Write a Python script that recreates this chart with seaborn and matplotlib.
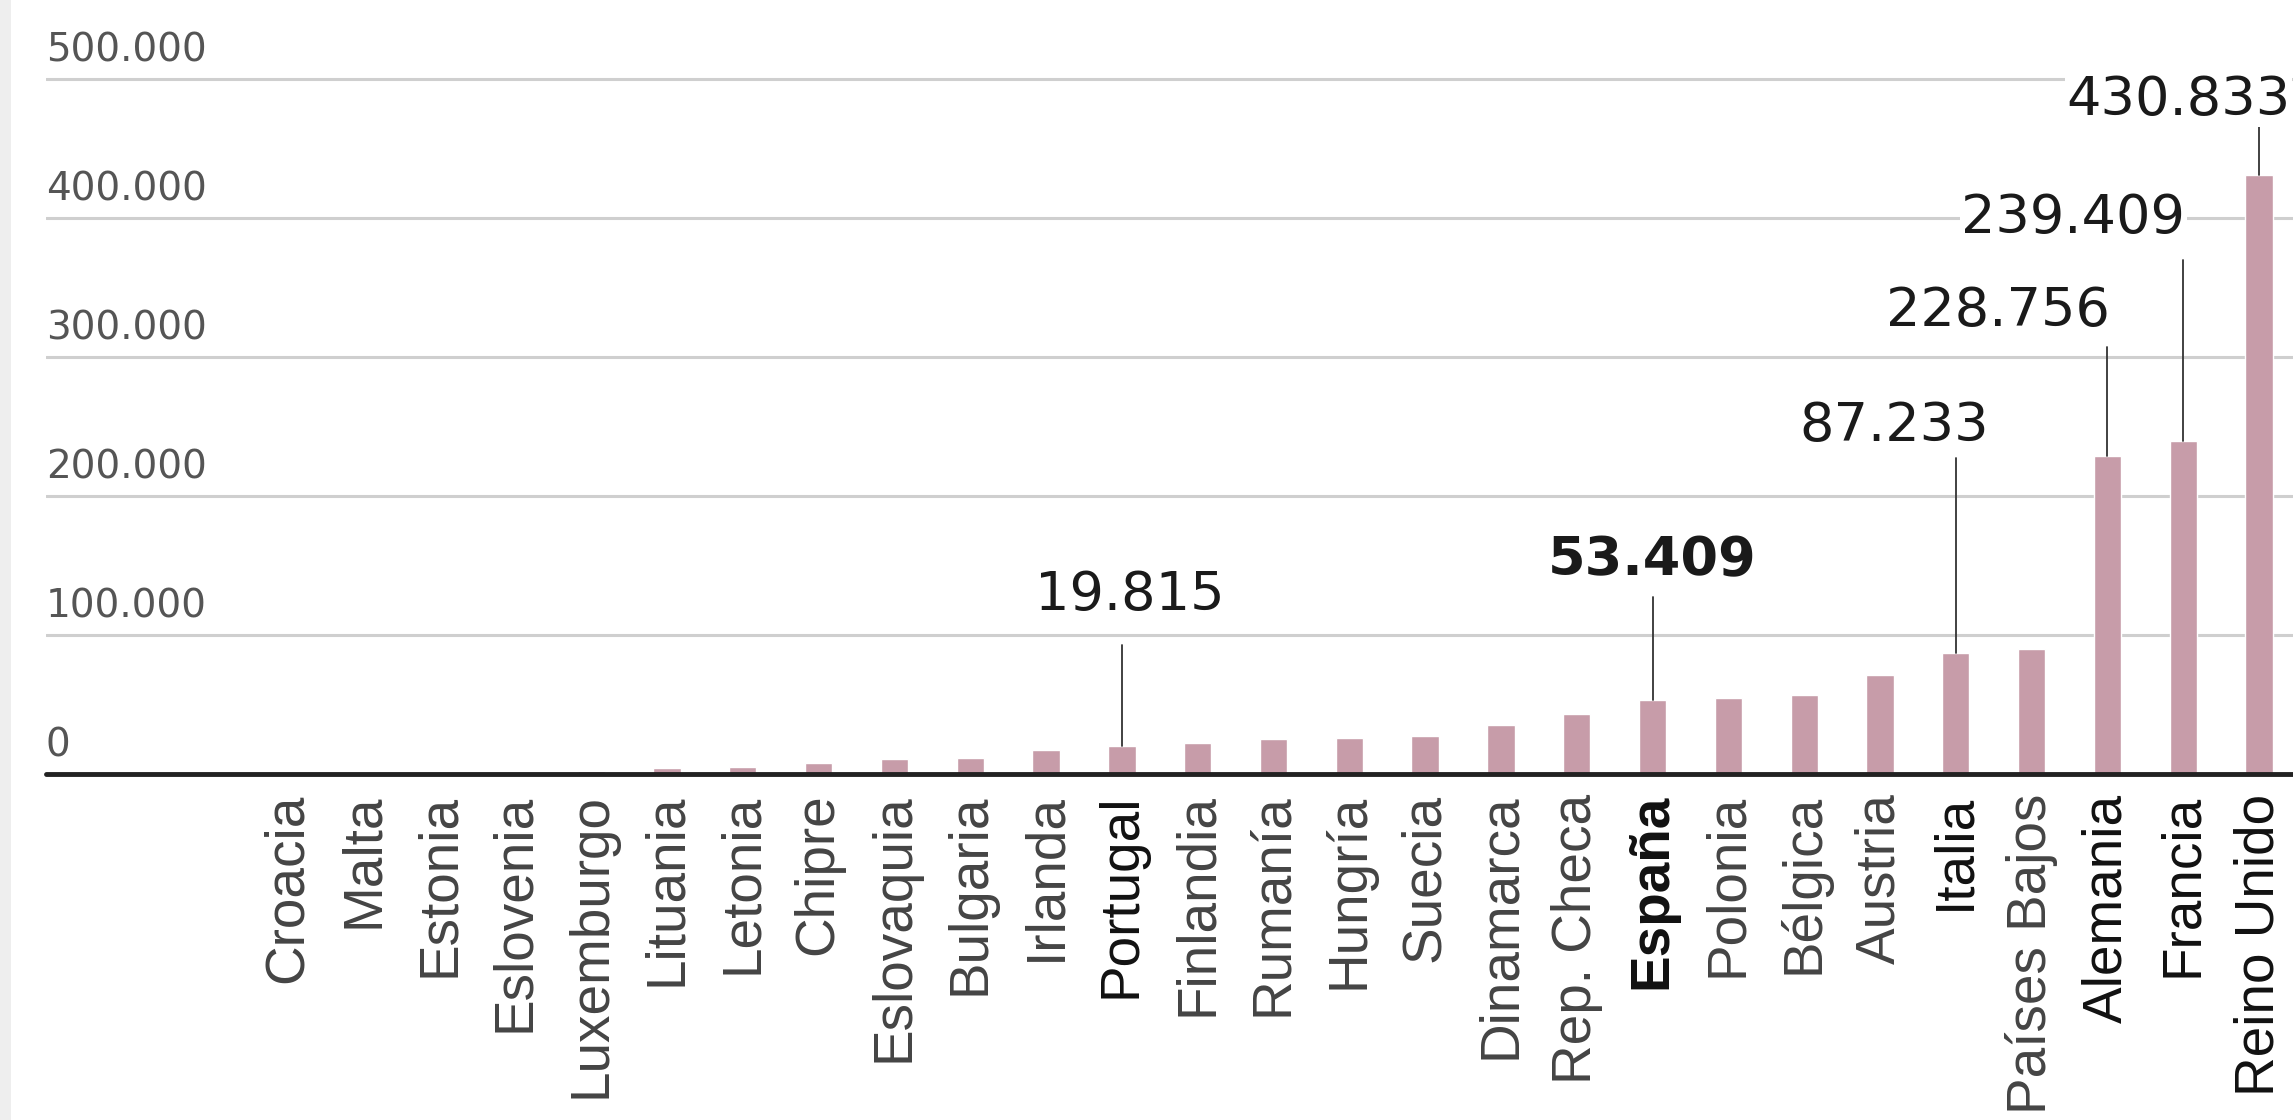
import matplotlib
matplotlib.use("Agg")
import matplotlib.pyplot as plt
import seaborn as sns
import pandas as pd
from matplotlib.patches import Rectangle

countries = ["Croacia", "Malta", "Estonia", "Eslovenia", "Luxemburgo", "Lituania",
             "Letonia", "Chipre", "Eslovaquia", "Bulgaria", "Irlanda", "Portugal",
             "Finlandia", "Rumanía", "Hungría", "Suecia", "Dinamarca", "Rep. Checa",
             "España", "Polonia", "Bélgica", "Austria", "Italia", "Países Bajos",
             "Alemania", "Francia", "Reino Unido"]
values = [500, 800, 1000, 1500, 2500, 4500,
          5000, 8000, 10500, 11500, 17000, 19815,
          22000, 25000, 26000, 27000, 35000, 43000,
          53409, 55000, 57000, 71000, 87233, 90000,
          228756, 239409, 430833]
yticks = [0, 100000, 200000, 300000, 400000, 500000]
ytick_labels = ["0", "100.000", "200.000", "300.000", "400.000", "500.000"]

# annotated bars: country, label text
ann_countries = ["Portugal", "España", "Italia", "Alemania", "Francia", "Reino Unido"]
ann_texts = ["19.815", "53.409", "87.233", "228.756", "239.409", "430.833"]
# layout for annotations (x offset in bar units, text y, line top y)
ann_dx = [0.1, 0.0, -0.81, -1.45, -1.45, -1.06]
ann_ty = [129000, 154000, 250000, 333000, 400000, 485000]
ann_lt = [93000, 127000, 227000, 307000, 370000, 468000]
highlight = set(ann_countries)

sns.set_theme(style="white")
plt.rcParams["font.family"] = ["Liberation Sans", "DejaVu Sans"]

W, H = 2293, 1120
fig = plt.figure(figsize=(W / 100, H / 100), dpi=100)
fig.patch.set_facecolor("white")
fig.patches.append(Rectangle((0, 0), 11 / W, 1, transform=fig.transFigure,
                             facecolor="#eeeeee", edgecolor="none", zorder=0))
zero_px = 774
ax = fig.add_axes([46 / W, (H - zero_px) / H, 1 - 46 / W, zero_px / H])

df = pd.DataFrame({"country": countries, "value": values})
sns.barplot(data=df, x="country", y="value", color="#c79ca9", saturation=1,
            width=0.36, ax=ax, zorder=3)

px_per_100k = 139
ax.set_ylim(0, zero_px / px_per_100k * 100000)
first_px, last_px = 288, 2259
spacing = (last_px - first_px) / (len(countries) - 1)
ax.set_xlim((46 - first_px) / spacing, (W - first_px) / spacing)

for s in ax.spines.values():
    s.set_visible(False)
ax.set_yticks([])
ax.set_ylabel("")
ax.set_xlabel("")

num_font = ["DejaVu Sans"]
for yv, lab in zip(yticks, ytick_labels):
    if yv == 0:
        ax.axhline(0, color="#222222", lw=3.5, zorder=5, clip_on=False)
    else:
        ax.axhline(yv, color="#cfcfcf", lw=2.2, zorder=1)
    ax.annotate(lab, xy=(0.0, yv), xycoords=("axes fraction", "data"),
                xytext=(0, 7), textcoords="offset points",
                ha="left", va="bottom", fontsize=28, color="#555555",
                family=num_font)

ax.set_xticks(range(len(countries)))
ax.set_xticklabels(countries, rotation=90, fontsize=39.5)
ax.tick_params(axis="x", length=0, pad=14)
for lbl in ax.get_xticklabels():
    t = lbl.get_text()
    if t == "España":
        lbl.set_fontweight("bold")
        lbl.set_color("#111111")
    elif t in highlight:
        lbl.set_color("#111111")
    else:
        lbl.set_color("#444444")

for c, txt, dx, ty, lt in zip(ann_countries, ann_texts, ann_dx, ann_ty, ann_lt):
    i = countries.index(c)
    v = values[i]
    ax.plot([i, i], [v, lt], color="#333333", lw=1.3, zorder=6)
    ax.text(i + dx, ty, txt, ha="center", va="center", fontsize=39,
            color="#1a1a1a", fontweight="bold" if c == "España" else "normal",
            family=num_font, zorder=7, clip_on=False,
            bbox=dict(facecolor="white", edgecolor="none", pad=1))

fig.savefig("out.png", dpi=100, facecolor="white")
